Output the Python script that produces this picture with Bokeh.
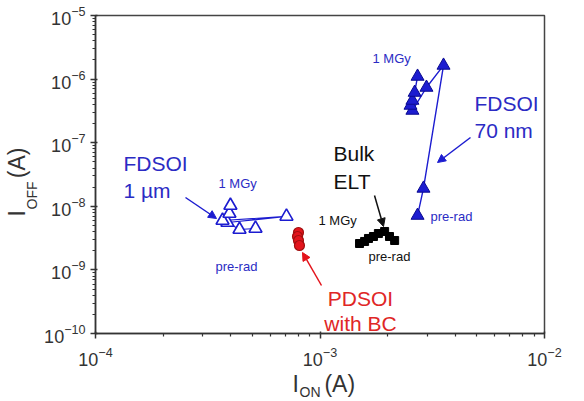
import math
from bokeh.plotting import figure
from bokeh.models import Label, Arrow, NormalHead, FixedTicker, LogTickFormatter, Title
from bokeh.embed import file_html
from bokeh.resources import INLINE

# ---- data ----
fd1_ion = [5.16e-4, 4.38e-4, 3.87e-4, 7.09e-4, 3.68e-4, 3.95e-4, 3.99e-4]
fd1_ioff = [4.48e-9, 4.32e-9, 5.56e-9, 6.92e-9, 5.98e-9, 7.7e-9, 1.03e-8]
pd_ion = [8.02e-4, 7.94e-4, 8.02e-4, 8.10e-4]
pd_ioff = [3.87e-9, 3.35e-9, 2.90e-9, 2.42e-9]
bulk_ion = [1.50e-3, 1.58e-3, 1.644e-3, 1.73e-3, 1.82e-3, 1.94e-3, 2.04e-3, 2.15e-3]
bulk_ioff = [2.60e-9, 2.80e-9, 3.12e-9, 3.35e-9, 3.73e-9, 4.02e-9, 3.35e-9, 2.90e-9]
fd70_ion = [2.72e-3, 2.89e-3, 3.55e-3, 2.98e-3, 2.58e-3, 2.53e-3, 2.58e-3, 2.64e-3, 2.72e-3]
fd70_ioff = [7.16e-9, 1.91e-8, 1.64e-6, 7.38e-7, 3.21e-7, 3.85e-7, 4.61e-7, 6.15e-7, 1.10e-6]

x_major = [1e-4, 1e-3, 1e-2]
y_major = [1e-10, 1e-9, 1e-8, 1e-7, 1e-6, 1e-5]

BLUE = "#1c1cd0"
TBLUE = "#2b2bc4"
RED = "#e3141c"
TRED = "#e02626"
FONT = "Liberation Sans"
AX = "#333333"
NB = "\u00a0"

p = figure(width=584, height=401, x_axis_type="log", y_axis_type="log",
           x_range=(1e-4, 1e-2), y_range=(1e-10, 1e-5),
           output_backend="svg", toolbar_location=None,
           min_border_left=95, min_border_right=40, min_border_top=15, min_border_bottom=68)
p.xgrid.visible = False
p.ygrid.visible = False
p.outline_line_color = "#444444"
p.outline_line_width = 1.5
p.outline_line_alpha = 1.0


def minors(majors):
    out = []
    for m in majors[:-1]:
        out += [m * k for k in range(2, 10)]
    return out


p.xaxis.ticker = FixedTicker(ticks=x_major, minor_ticks=minors(x_major))
p.yaxis.ticker = FixedTicker(ticks=y_major, minor_ticks=minors(y_major))
for ax in (p.xaxis, p.yaxis):
    ax.formatter = LogTickFormatter()
    ax.axis_line_color = AX
    ax.axis_line_width = 1.5
    ax.major_tick_line_color = AX
    ax.major_tick_line_width = 1.5
    ax.minor_tick_line_color = AX
    ax.minor_tick_line_width = 1.2
    ax.major_tick_in = 2
    ax.major_tick_out = 5
    ax.minor_tick_in = 0
    ax.minor_tick_out = 3
    ax.major_label_text_font = FONT
    ax.major_label_text_font_size = "18px"
    ax.major_label_text_color = AX
p.xaxis.major_label_standoff = 8
p.yaxis.major_label_standoff = 5

# ---- axis titles (main text + subscript as separate titles) ----
p.add_layout(Title(text="I" + NB * 4 + "(A)", align="left", offset=197, standoff=0,
                   text_font=FONT, text_font_size="23px", text_font_style="normal",
                   text_color=AX), "below")
p.add_layout(Title(text="ON", align="left", offset=204, standoff=-26,
                   vertical_align="top",
                   text_font=FONT, text_font_size="14px", text_font_style="normal",
                   text_color=AX), "below")
p.add_layout(Title(text="OFF", align="left", offset=124, standoff=4,
                   text_font=FONT, text_font_size="14px", text_font_style="normal",
                   text_color=AX), "left")
p.add_layout(Title(text="I" + NB * 5 + "(A)", align="left", offset=117, standoff=-20,
                   text_font=FONT, text_font_size="23px", text_font_style="normal",
                   text_color=AX), "left")

# ---- series ----
p.line(fd1_ion, fd1_ioff, line_color=BLUE, line_width=1.2)
p.scatter(fd1_ion, fd1_ioff, marker="triangle", size=13, fill_color="white",
          line_color=BLUE, line_width=1.6)

p.scatter(pd_ion, pd_ioff, marker="circle", size=10, fill_color=RED,
          line_color="#a01010", line_width=1.2)

p.line(bulk_ion, bulk_ioff, line_color="black", line_width=1.2)
p.scatter(bulk_ion, bulk_ioff, marker="square", size=8, fill_color="black",
          line_color="black")

p.line(fd70_ion, fd70_ioff, line_color=BLUE, line_width=1.4)
p.scatter(fd70_ion, fd70_ioff, marker="triangle", size=13, fill_color=BLUE,
          line_color="#0a0a90", line_width=1.0)


# ---- annotations (screen units relative to the frame) ----
def lab(text, x, y, color, size, align="left", baseline="middle"):
    p.add_layout(Label(x=x, y=y, x_units="screen", y_units="screen", text=text,
                       text_color=color, text_font=FONT, text_font_size=size,
                       text_align=align, text_baseline=baseline))


lab("FDSOI", 28, 170, TBLUE, "21px")
lab("1 µm", 28, 143, TBLUE, "21px")
lab("1 MGy", 123, 150, TBLUE, "13px")
lab("pre-rad", 120, 67, TBLUE, "13px")
lab("PDSOI", 265, 35, TRED, "21px", align="center")
lab("with BC", 265, 10, TRED, "21px", align="center")
lab("Bulk", 238, 180, "#111111", "21px")
lab("ELT", 238, 152, "#111111", "21px")
lab("1 MGy", 223, 113, "#111111", "13px")
lab("pre-rad", 273, 77, "#111111", "13px")
lab("1 MGy", 277, 275, TBLUE, "13px")
lab("FDSOI", 379, 230, TBLUE, "21px")
lab("70 nm", 379, 203, TBLUE, "21px")
lab("pre-rad", 335, 117, TBLUE, "13px")


def arrow(x0, y0, x1, y1, color):
    p.add_layout(Arrow(end=NormalHead(size=8, fill_color=color, line_color=color),
                       x_start=x0, y_start=y0, x_end=x1, y_end=y1,
                       start_units="screen", end_units="screen",
                       line_color=color, line_width=1.5))


arrow(90, 136, 121, 115, BLUE)
arrow(226, 48, 207, 81, RED)
arrow(279, 138, 288, 107, "#111111")
arrow(375, 196, 342, 171, BLUE)

open("out.html", "w").write(file_html(p, INLINE))
